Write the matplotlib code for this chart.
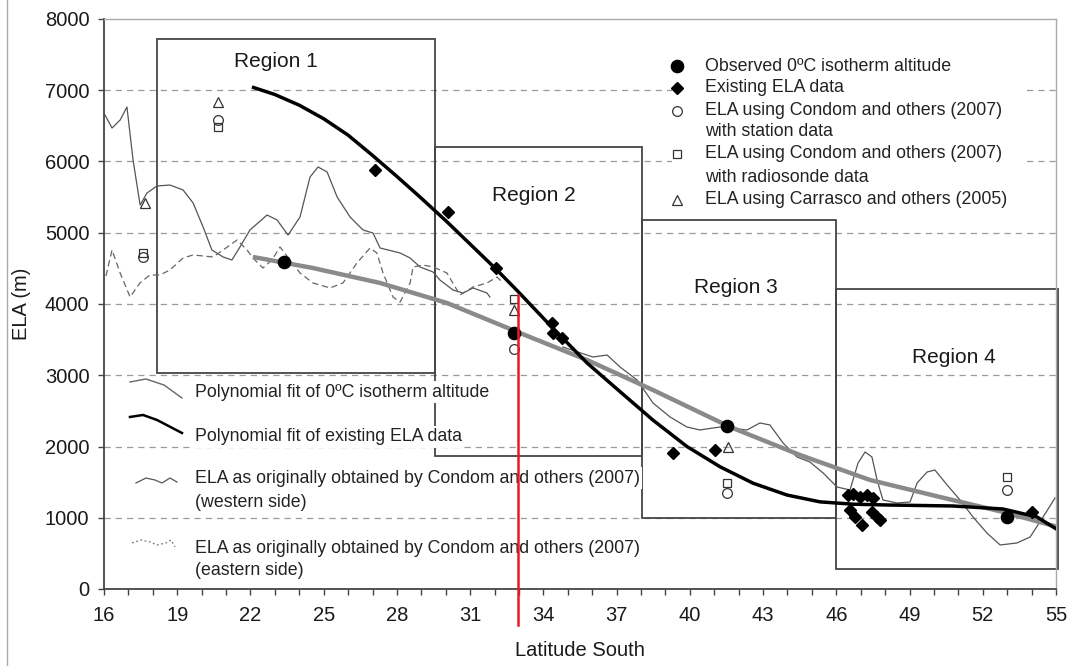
import matplotlib
matplotlib.use('Agg')
import matplotlib.pyplot as plt
from matplotlib.patches import Rectangle
from matplotlib.lines import Line2D
import numpy as np

plt.rcParams['font.family'] = ['Liberation Sans', 'DejaVu Sans']

# ---------------- data ----------------
# ELA originally obtained by Condom and others (2007), western side (two stretches)
lat_w1 = [16.04, 16.33, 16.66, 16.94, 17.19, 17.48, 17.76, 18.17, 18.70, 19.24, 19.65, 20.06, 20.42,
          20.88, 21.24, 21.57, 21.98, 22.68, 23.09, 23.54, 24.03, 24.44, 24.77, 25.14, 25.55, 26.08,
          26.61, 27.02, 27.31, 28.13, 28.54, 28.95, 29.48, 29.76, 30.30, 30.71, 31.12, 31.69, 31.81]
ela_w1 = [6653, 6470, 6582, 6765, 6021, 5389, 5558, 5656, 5670, 5600, 5418, 5081, 4758,
          4660, 4618, 4800, 5039, 5249, 5179, 4968, 5221, 5782, 5923, 5853, 5502, 5221,
          5039, 4996, 4786, 4716, 4646, 4519, 4449, 4337, 4196, 4154, 4225, 4154, 4098]
lat_w2 = [34.80, 36.03, 36.61, 37.14, 37.84, 38.49, 39.19, 39.88, 40.41, 41.24, 42.34, 42.87, 43.28,
          43.82, 44.39, 44.92, 45.46, 46.03, 46.56, 46.89, 47.18, 47.46, 47.67, 47.91, 48.49, 49.02,
          49.31, 49.72, 50.04, 50.54, 51.07, 51.60, 52.17, 52.71, 53.40, 53.94, 54.47, 54.96]
ela_w2 = [3396, 3256, 3284, 3116, 2933, 2611, 2414, 2274, 2232, 2274, 2232, 2330, 2302,
          2049, 1853, 1782, 1628, 1432, 1389, 1768, 1923, 1853, 1530, 1249, 1207, 1221,
          1488, 1642, 1670, 1460, 1249, 1011, 786, 618, 646, 730, 1011, 1277]
# eastern side
lat_e = [16.08, 16.33, 16.66, 17.07, 17.47, 17.88, 18.29, 18.70, 19.24, 19.65, 20.47, 20.88, 21.45,
         21.86, 22.10, 22.51, 22.88, 23.21, 23.62, 24.03, 24.56, 25.26, 25.79, 26.36, 26.90, 27.18,
         27.43, 27.84, 28.13, 28.54, 28.66, 29.07, 29.48, 30.05, 30.58, 31.12, 31.69, 32.10, 32.35]
ela_e = [4393, 4758, 4435, 4098, 4295, 4407, 4407, 4477, 4646, 4688, 4660, 4758, 4898,
         4758, 4646, 4505, 4618, 4800, 4618, 4435, 4295, 4225, 4295, 4575, 4786, 4716,
         4435, 4098, 4028, 4295, 4519, 4547, 4519, 4435, 4126, 4239, 4295, 4379, 4295]

# Polynomial fit of existing ELA data (black)
lat_bf = [22.06, 23.0, 24.0, 25.0, 26.0, 27.02, 28.0, 28.95, 30.0, 31.0, 32.09, 32.92, 34.39, 35.79,
          37.14, 38.49, 39.88, 41.24, 42.59, 43.98, 45.33, 46.7, 48.08, 50.78, 52.83, 54.22, 55.08]
ela_bf = [7046, 6940, 6790, 6600, 6370, 6080, 5790, 5500, 5170, 4840, 4480, 4190, 3660, 3172,
          2770, 2370, 2000, 1715, 1485, 1319, 1223, 1190, 1179, 1165, 1123, 1011, 828]
# Polynomial fit of 0ºC isotherm altitude (grey)
lat_gf = [22.10, 24.56, 27.31, 30.05, 33.04, 35.79, 38.49, 41.65, 44.51, 47.38, 50.25, 52.83, 55.08]
ela_gf = [4660, 4505, 4295, 4014, 3593, 3214, 2793, 2274, 1881, 1530, 1291, 1081, 870]

# point data
obs_lat = [23.37, 32.81, 41.52, 53.0]
obs_ela = [4590, 3597, 2288, 1010]
exist_lat = [27.1, 30.09, 32.06, 34.35, 34.39, 34.76, 39.31, 41.03, 46.48, 46.68, 46.97, 47.26,
             47.50, 46.56, 46.77, 47.05, 47.46, 47.67, 47.79, 53.0, 54.02]
exist_ela = [5880, 5291, 4505, 3733, 3593, 3523, 1909, 1951, 1319, 1333, 1291, 1319,
             1277, 1109, 1011, 898, 1081, 1011, 968, 1010, 1081]
stat_lat = [17.6, 20.66, 32.81, 41.52, 53.0]
stat_ela = [4660, 6580, 3364, 1347, 1389]
radio_lat = [17.6, 20.66, 32.81, 41.52, 53.0]
radio_ela = [4720, 6488, 4066, 1488, 1572]
carr_lat = [17.68, 20.66, 32.81, 41.58]
carr_ela = [5418, 6835, 3916, 1997]

# regions
region_names = ['Region 1', 'Region 2', 'Region 3', 'Region 4']
region_left = [18.17, 29.56, 38.04, 46.0]
region_right = [29.56, 38.04, 46.0, 55.08]
region_bottom = [3030, 1860, 990, 280]
region_top = [7720, 6200, 5180, 4210]
region_label_lat = [23.05, 33.6, 41.9, 50.8]
region_label_ela = [7400, 5520, 4225, 3256]

red_lat = 32.95
red_top, red_bottom = 4126, -505

xticks = list(range(16, 56, 3))
yticks = list(range(0, 8001, 1000))

# ---------------- figure ----------------
fig = plt.figure(figsize=(10.71, 6.66), dpi=100)
ax = fig.add_axes([104/1071, 77/666, 952/1071, 570/666])
ax.set_xlim(16, 55)
ax.set_ylim(0, 8000)

for y in yticks[1:-1]:
    ax.axhline(y, color='#9a9a9a', lw=0.9, ls=(0, (5, 4)), zorder=0.5)

for l, r, b, t in zip(region_left, region_right, region_bottom, region_top):
    ax.add_patch(Rectangle((l, b), r - l, t - b, fill=False, ec='#454545', lw=1.3,
                           clip_on=False, zorder=1))
for name, lx, ly in zip(region_names, region_label_lat, region_label_ela):
    ax.text(lx, ly, name, fontsize=15, ha='center', va='center', color='#1a1a1a', zorder=4)

ax.plot(lat_w1, ela_w1, color='#555555', lw=0.9, zorder=2)
ax.plot(lat_w2, ela_w2, color='#555555', lw=0.9, zorder=2)
ax.plot(lat_e, ela_e, color='#666666', lw=0.9, ls=(0, (5, 3)), zorder=2)

ax.plot(lat_gf, ela_gf, color='#8a8a8a', lw=3.2, zorder=3, solid_capstyle='butt', solid_joinstyle='round')
ax.plot(lat_bf, ela_bf, color='black', lw=2.5, zorder=3.5, solid_capstyle='butt', solid_joinstyle='round')

ax.plot(exist_lat, exist_ela, 'D', ms=6.0, color='black', zorder=5, ls='none')
ax.plot(obs_lat, obs_ela, 'o', ms=8.8, color='black', zorder=5, ls='none')
ax.plot(stat_lat, stat_ela, 'o', ms=7.0, mfc='none', mec='#333333', mew=0.9, zorder=5, ls='none')
ax.plot(radio_lat, radio_ela, 's', ms=6.3, mfc='none', mec='#333333', mew=0.9, zorder=5, ls='none')
ax.plot(carr_lat, carr_ela, '^', ms=7.5, mfc='none', mec='#333333', mew=0.9, zorder=5, ls='none')

ax.plot([red_lat, red_lat], [red_top, red_bottom], color='#e51b24', lw=1.8, zorder=7, clip_on=False)

# ---------------- top-right legend ----------------
T = ax.transAxes
ax.add_patch(Rectangle((0.597, 0.661), 0.367, 0.276, transform=T, fc='white', ec='none', zorder=3.9))
mx, tx = 0.602, 0.631
rows = [0.9175, 0.879, 0.8386, 0.8018, 0.7632, 0.7228, 0.6825]
lab_top = ['Observed 0ºC isotherm altitude', 'Existing ELA data',
           'ELA using Condom and others (2007)', 'with station data',
           'ELA using Condom and others (2007)', 'with radiosonde data',
           'ELA using Carrasco and others (2005)']
for y, s in zip(rows, lab_top):
    ax.text(tx, y, s, transform=T, fontsize=12.8, va='center', ha='left', color='#222222', zorder=4.5)
ax.plot([mx], [rows[0]], 'o', ms=8.8, color='black', transform=T, zorder=5)
ax.plot([mx], [rows[1]], 'D', ms=6.0, color='black', transform=T, zorder=5)
ax.plot([mx], [rows[2]], 'o', ms=7.0, mfc='none', mec='#333333', mew=0.9, transform=T, zorder=5)
ax.plot([mx], [rows[4]], 's', ms=6.3, mfc='none', mec='#333333', mew=0.9, transform=T, zorder=5)
ax.plot([mx], [rows[6]], '^', ms=7.5, mfc='none', mec='#333333', mew=0.9, transform=T, zorder=5)

# ---------------- bottom-left legend ----------------
btx = 0.0956
brows = [0.3456, 0.2667, 0.1947, 0.1526, 0.0719, 0.0316]
lab_bot = ['Polynomial fit of 0ºC isotherm altitude', 'Polynomial fit of existing ELA data',
           'ELA as originally obtained by Condom and others (2007)', '(western side)',
           'ELA as originally obtained by Condom and others (2007)', '(eastern side)']
for y, s in zip(brows, lab_bot):
    ax.text(btx, y, s, transform=T, fontsize=12.8, va='center', ha='left', color='#222222', zorder=4.5,
            bbox=dict(fc='white', ec='none', pad=1.5))
ax.plot([0.0273, 0.0441, 0.063, 0.0819], [0.3632, 0.3684, 0.3579, 0.3351], transform=T,
        color='#666666', lw=1.0, zorder=5)
ax.plot([0.0273, 0.041, 0.0557, 0.0819], [0.3018, 0.3053, 0.2965, 0.2737], transform=T,
        color='black', lw=1.8, zorder=5)
ax.plot([0.0336, 0.0441, 0.0536, 0.0609, 0.0693, 0.0767], [0.186, 0.1947, 0.1912, 0.186, 0.1947, 0.1877],
        transform=T, color='#555555', lw=0.9, zorder=5)
ax.plot([0.0294, 0.0389, 0.0483, 0.0557, 0.0651, 0.0704, 0.0746],
        [0.0807, 0.086, 0.0825, 0.0772, 0.0807, 0.086, 0.0737],
        transform=T, color='#777777', lw=0.9, ls=(0, (1.5, 2)), zorder=5)

# ---------------- axes styling ----------------
ax.set_xticks(xticks)
ax.set_xticks(list(range(16, 56)), minor=True)
ax.set_yticks(yticks)
ax.tick_params(axis='both', which='both', direction='out', length=4.5, width=1.0, color='#444444',
               labelsize=14.5, labelcolor='#1a1a1a')
ax.tick_params(axis='x', which='major', pad=8)
ax.tick_params(axis='y', which='major', pad=6)
for s in ['left', 'bottom']:
    ax.spines[s].set_color('#444444')
    ax.spines[s].set_linewidth(1.3)
for s in ['top', 'right']:
    ax.spines[s].set_color('#aaaaaa')
    ax.spines[s].set_linewidth(1.0)
ax.set_xlabel('Latitude South', fontsize=14.5, color='#1a1a1a', labelpad=11)
ax.set_ylabel('ELA (m)', fontsize=14.5, color='#1a1a1a', labelpad=10)

fig.add_artist(Line2D([7/1071, 7/1071], [0, 1], color='#a8a8b8', lw=1.0))

fig.savefig('out.png', dpi=100, facecolor='white')
